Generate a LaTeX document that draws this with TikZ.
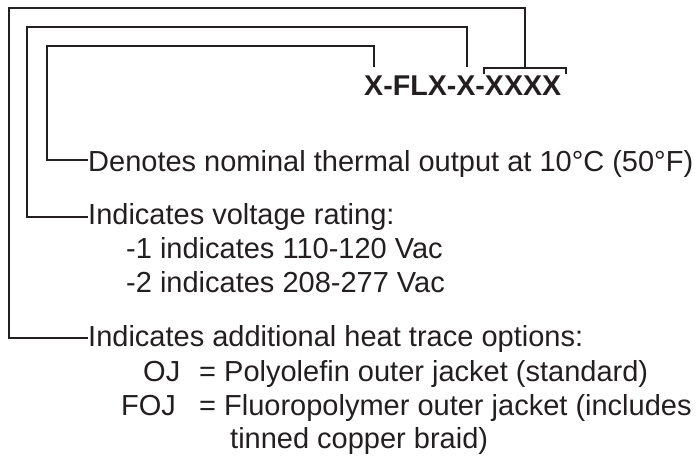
\documentclass[tikz,border=0pt]{standalone}
\usepackage{fontspec}
\setmainfont{Liberation Sans}
\definecolor{ink}{HTML}{231F20}
\begin{document}
\begin{tikzpicture}[x=1pt,y=-1pt,
  lead/.style={draw=ink,line width=2pt},
  txt/.style={inner sep=0pt,anchor=base west,text=ink,font=\fontsize{29}{34}\selectfont},
  code/.style={inner sep=0pt,anchor=base west,text=ink,font=\fontsize{28.6}{34}\selectfont\bfseries}]
\useasboundingbox (0,0) rectangle (700,472);
% title
\node[code] (title) at (364,95) {X-FLX-X-XXXX};
% descriptions
\node[txt] (t1) at (88,171) {Denotes nominal thermal output at 10°C (50°F)};
\node[txt] (t2) at (88,224) {Indicates voltage rating:};
\node[txt] (t2a) at (126,258) {-1 indicates 110-120 Vac};
\node[txt] (t2b) at (126,292) {-2 indicates 208-277 Vac};
\node[txt] (t3) at (88,346) {Indicates additional heat trace options:};
\node[txt] (oj) at (143,381) {OJ};
\node[txt] (ojd) at (199,381) {= Polyolefin outer jacket (standard)};
\node[txt] (foj) at (121,415) {FOJ};
\node[txt] (fojd) at (199,415) {= Fluoropolymer outer jacket (includes};
\node[txt] (fojd2) at (230,448) {tinned copper braid)};
% leader end points on the code
\coordinate (p1) at (374,67);
\coordinate (p2) at (467,67);
\coordinate (p3) at (525,68);
\coordinate (b1) at (484,74);
\coordinate (b2) at (566,74);
% corners
\coordinate (c1) at (47,46);
\coordinate (c2) at (27,27);
\coordinate (c3) at (9,8);
\coordinate (e1) at (47,160);
\coordinate (e2) at (27,217);
\coordinate (e3) at (9,338);
% leaders
\draw[lead] (p1) |- (c1) -- (e1) -- (e1 -| t1.west);
\draw[lead] (p2) |- (c2) -- (e2) -- (e2 -| t2.west);
\draw[lead] (p3) |- (c3) -- (e3) -- (e3 -| t3.west);
\draw[lead] (b1) -- (b1 |- p3) -- (b2 |- p3) -- (b2);
\end{tikzpicture}
\end{document}
